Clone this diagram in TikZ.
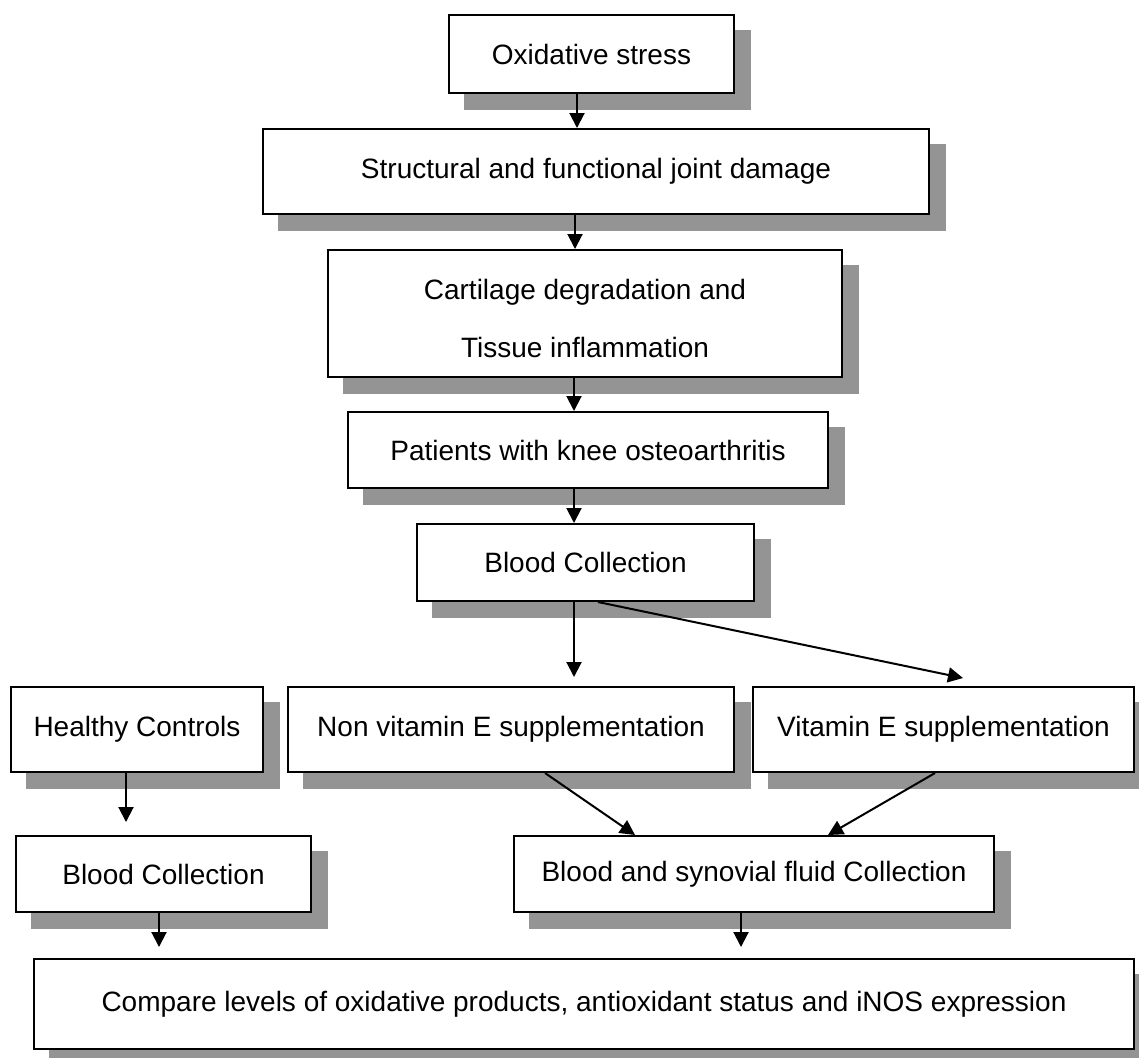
\documentclass[tikz,border=0pt]{standalone}
\usepackage{fontspec}
\setmainfont{Liberation Sans}
\usetikzlibrary{arrows.meta,backgrounds}
\begin{document}
\begin{tikzpicture}[x=0.5pt,y=-0.5pt,
  box/.style={draw=black,line width=1pt,fill=white,inner sep=0pt,
    font=\fontsize{14pt}{29pt}\selectfont,align=center},
  conn/.style={line width=1pt,-{Triangle[length=7.5pt,width=7.5pt]}},
  shade/.style={fill=black!42}]
\useasboundingbox (0,0) rectangle (1139,1057);

\node[box,minimum width=142.5pt,minimum height=39pt]   (b1)  at (591.5,54)   {Oxidative stress};
\node[box,minimum width=333pt,minimum height=42.5pt]   (b2)  at (596,171.5)  {Structural and functional joint damage};
\node[box,minimum width=257pt,minimum height=63.5pt]   (b3)  at (585,313.5)  {\rule{0pt}{15pt}Cartilage degradation and\\Tissue inflammation};
\node[box,minimum width=240pt,minimum height=38pt]     (b4)  at (588,450)    {Patients with knee osteoarthritis};
\node[box,minimum width=168.5pt,minimum height=38.5pt] (b5)  at (585.5,562.5){Blood Collection};
\node[box,minimum width=126pt,minimum height=42.5pt]   (b6)  at (137,729.5)  {Healthy Controls};
\node[box,minimum width=223pt,minimum height=42.5pt]   (b7)  at (511,729.5)  {Non vitamin E supplementation};
\node[box,minimum width=190.5pt,minimum height=42.5pt] (b8)  at (943.5,729.5){Vitamin E supplementation};
\node[box,minimum width=147.5pt,minimum height=38pt]   (b9)  at (163.5,874)  {Blood Collection};
\node[box,minimum width=240pt,minimum height=38pt]     (b10) at (754,874)    {Blood and synovial fluid Collection};
\node[box,minimum width=550pt,minimum height=45pt]     (b11) at (584,1004)   {Compare levels of oxidative products, antioxidant status and iNOS expression};

\begin{scope}[on background layer]
  \foreach \n in {b1,b2,b3,b4,b5,b6,b7,b8,b9,b10,b11}
    \fill[shade] ([shift={(16,16)}]\n.north west) rectangle ([shift={(16,16)}]\n.south east);
\end{scope}

% helper columns
\coordinate (c577) at (577,0);
\coordinate (c575) at (575,0);
\coordinate (c574) at (574,0);
\coordinate (c598) at (598,0);
\coordinate (c126) at (126,0);
\coordinate (c545) at (545,0);
\coordinate (c635) at (635,0);
\coordinate (c935) at (935,0);
\coordinate (c828) at (828,0);
\coordinate (c159) at (159,0);
\coordinate (c741) at (741,0);
% free arrow ends
\coordinate (t7)  at (574,677);
\coordinate (t8)  at (963,678);
\coordinate (t9)  at (126,822);
\coordinate (t11a) at (159,947);
\coordinate (t11b) at (741,947);

\draw[conn] (b1.south -| c577) -- (b2.north -| c577);
\draw[conn] (b2.south -| c575) -- (b3.north -| c575);
\draw[conn] (b3.south -| c574) -- (b4.north -| c574);
\draw[conn] (b4.south -| c574) -- (b5.north -| c574);
\draw[conn] (b5.south -| c574) -- (t7);
\draw[conn] (b5.south -| c598) -- (t8);
\draw[conn] (b6.south -| c126) -- (t9);
\draw[conn] (b7.south -| c545) -- (b10.north -| c635);
\draw[conn] (b8.south -| c935) -- (b10.north -| c828);
\draw[conn] (b9.south -| c159) -- (t11a);
\draw[conn] (b10.south -| c741) -- (t11b);
\end{tikzpicture}
\end{document}
